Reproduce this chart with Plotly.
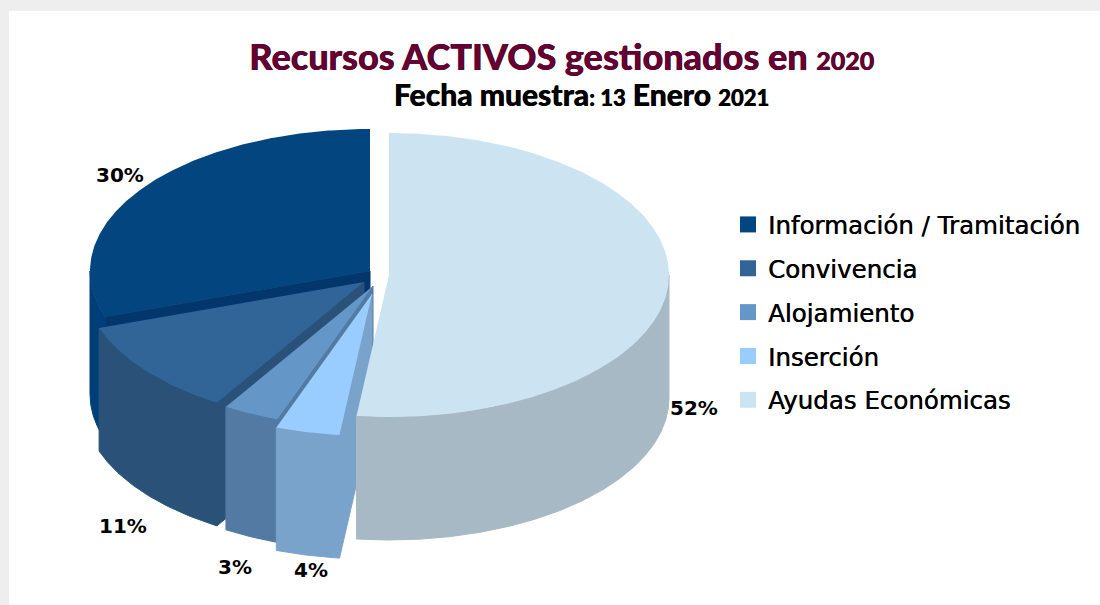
import math
import plotly.graph_objects as go

# ---- data ----
categories = ["Información / Tramitación", "Convivencia", "Alojamiento", "Inserción", "Ayudas Económicas"]
values = [30.25, 10.95, 3.25, 3.7, 51.85]

# ---- styling / geometry (pixels on the hidden axes) ----
top_colors = ["#03457F", "#316497", "#6496C8", "#99CCFF", "#CCE4F2"]
wall_colors = ["#003E7A", "#2A5279", "#527AA3", "#7AA3CC", "#A7B9C5"]
radial_colors = ["#03366B", "#2A5279", "#527AA3", "#7AA3CC", "#A7B9C5"]
apexes = [(370, 271), (364, 282), (373, 286), (372, 294), (389, 275)]
label_xy = [(120, 175), (123, 526), (235, 567), (311, 570), (694, 408)]
RX, RY, DEPTH = 280, 142, 123
W, H = 1100, 605


def pt(apex, deg, drop=0):
    a = math.radians(deg)
    return apex[0] + RX * math.sin(a), apex[1] - RY * math.cos(a) + drop


def arc(apex, a0, a1, drop=0):
    n = max(2, int(abs(a1 - a0) * 2) + 1)
    return [pt(apex, a0 + (a1 - a0) * i / (n - 1), drop) for i in range(n)]


def poly(points, color, edge=0):
    xs = [p[0] for p in points] + [points[0][0]]
    ys = [p[1] for p in points] + [points[0][1]]
    return go.Scatter(x=xs, y=ys, mode="lines", fill="toself", fillcolor=color,
                      line=dict(width=edge, color=color), hoverinfo="skip", showlegend=False)


# slices run clockwise from 12 o'clock: last category first
total = sum(values)
order = list(range(len(values)))[::-1]
spans = {}
start = 0.0
for i in order:
    sweep = values[i] / total * 360
    spans[i] = (start, start + sweep)
    start += sweep

fig = go.Figure()
for i in range(len(values)):
    a0, a1 = spans[i]
    ap = apexes[i]
    # radial wall on the counter-clockwise edge, facing the viewer
    if a0 > 0:
        rim = pt(ap, a0)
        fig.add_trace(poly([ap, rim, (rim[0], rim[1] + DEPTH), (ap[0], ap[1] + DEPTH)], radial_colors[i], 1))
    # outer wall: only the part facing the viewer
    w0, w1 = max(a0, 90), min(a1, 270)
    if w1 > w0:
        fig.add_trace(poly(arc(ap, w0, w1) + arc(ap, w1, w0, DEPTH), wall_colors[i], 1))
    # top face
    fig.add_trace(poly([ap] + arc(ap, a0, a1), top_colors[i]))

# legend entries
for i, name in enumerate(categories):
    fig.add_trace(go.Scatter(x=[None], y=[None], mode="markers", name=name, legendgroup=name,
                             marker=dict(symbol="square", size=16, color=top_colors[i])))

# percentage labels
for i, (x, y) in enumerate(label_xy):
    fig.add_annotation(x=x, y=y, text=f"{values[i] / total * 100:.0f}%", showarrow=False,
                       font=dict(family="DejaVu Sans", size=20, color="#000000", weight=700))


def span(size, text, color="#000000"):
    return f'<span style="font-size:{size}px;color:{color}">{text}</span>'


title_line = span(36, "Recursos ACTIVOS gestionados en ", "#660033") + span(25, "2020", "#660033")
sub_line = "\u00a0" * 6 + span(30, "Fecha muestra") + span(22, ": 13") + span(30, " Enero ") + span(22, "2021")
fig.add_annotation(x=561, y=73, showarrow=False, align="center",
                   text=title_line + "<br>" + sub_line,
                   font=dict(family="Lato", size=28, color="#000000", weight=900, shadow="0.5px 0 0"))

fig.update_layout(
    width=W, height=H, margin=dict(l=0, r=0, t=0, b=0),
    paper_bgcolor="#FFFFFF", plot_bgcolor="rgba(0,0,0,0)",
    xaxis=dict(range=[0, W], visible=False, fixedrange=True),
    yaxis=dict(range=[H, 0], visible=False, fixedrange=True),
    legend=dict(x=728 / W, y=1 - 202 / H, xanchor="left", yanchor="top", itemsizing="trace",
                tracegroupgap=9, bgcolor="rgba(0,0,0,0)",
                font=dict(family="DejaVu Sans", size=24.5, color="#000000",
                          shadow="0.4px 0 0 #000000")),
    shapes=[
        dict(type="rect", xref="paper", yref="paper", x0=0, x1=1, y0=1 - 11 / H, y1=1,
             fillcolor="#EEEEEE", line_width=0, layer="below"),
        dict(type="rect", xref="paper", yref="paper", x0=0, x1=9 / W, y0=0, y1=1,
             fillcolor="#EEEEEE", line_width=0, layer="below"),
    ],
)
fig.write_html("out.html", config={"displayModeBar": False},
               post_script="document.body.style.margin='0';")
